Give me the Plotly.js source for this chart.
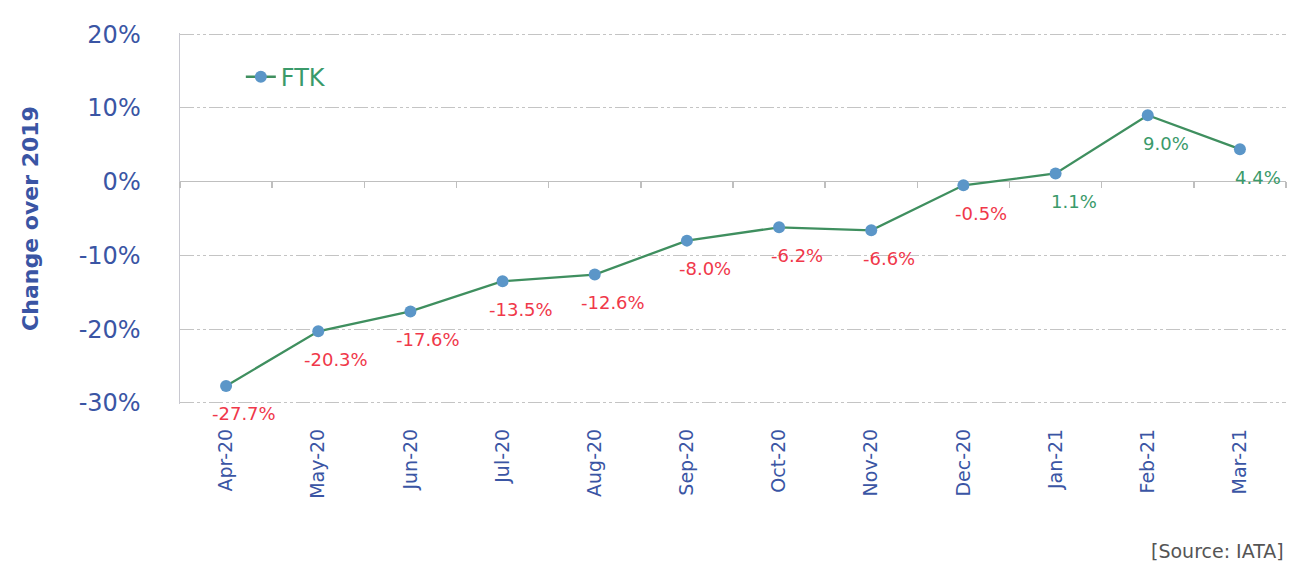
<!DOCTYPE html>
<html>
<head>
<meta charset="utf-8">
<script src="https://cdn.plot.ly/plotly-3.0.1.min.js"></script>
<style>html,body{margin:0;padding:0;background:#fff;}#chart{width:1290px;height:565px;}</style>
</head>
<body>
<div id="chart"></div>
<script>
const months = ["Apr-20","May-20","Jun-20","Jul-20","Aug-20","Sep-20","Oct-20","Nov-20","Dec-20","Jan-21","Feb-21","Mar-21"];
const ftk = [-27.7, -20.3, -17.6, -13.5, -12.6, -8.0, -6.2, -6.6, -0.5, 1.1, 9.0, 4.4];
const yTicks = [-30, -20, -10, 0, 10, 20];
const yTickText = ["-30%", "-20%", "-10%", "0%", "10%", "20%"];

const blue = "#3a55a4";
const red = "#f0384a";
const green = "#3a9a6a";
const FONT = "'DejaVu Sans', sans-serif";

const trace = {
  x: months, y: ftk, type: "scatter", mode: "lines+markers", name: "FTK",
  line: {color: "#3f8f5f", width: 2.3},
  marker: {color: "#5b96c8", size: 12},
  cliponaxis: false
};
// invisible trace on xaxis2, used only to draw boundary tick marks on the 0% axis line
const tickTrace = {x: months, y: ftk, xaxis: "x2", yaxis: "y", showlegend: false, hoverinfo: "skip",
  type: "scatter", mode: "markers", marker: {opacity: 0}};

const annotations = months.map((m, i) => ({
  x: m, y: ftk[i], xref: "x", yref: "y",
  text: ftk[i].toFixed(1) + "%",
  showarrow: false, xshift: 18, yshift: -28,
  font: {family: FONT, size: 18, color: ftk[i] < 0 ? red : green}
}));
annotations.push({
  xref: "paper", yref: "paper", x: 1.0, y: -0.395, xanchor: "right", yanchor: "middle",
  text: "[Source: IATA]", showarrow: false,
  font: {family: FONT, size: 19, color: "#555"}
});

const layout = {
  width: 1290, height: 565,
  margin: {l: 180, r: 4, t: 33, b: 161},
  paper_bgcolor: "#fff", plot_bgcolor: "#fff",
  showlegend: true,
  legend: {x: 0.055, y: 0.881, xanchor: "left", yanchor: "middle", bgcolor: "rgba(0,0,0,0)",
    font: {family: FONT, size: 24, color: green}, itemwidth: 30},
  xaxis: {
    type: "category", range: [-0.5, 11.5], showgrid: false, zeroline: false,
    showline: false, ticks: "", tickangle: -90, ticklabelstandoff: 20,
    tickfont: {family: FONT, size: 19, color: blue}
  },
  xaxis2: {
    type: "category", overlaying: "x", anchor: "free", position: 0.6, side: "bottom",
    range: [-0.5, 11.5], showgrid: false, zeroline: false, showline: false,
    ticks: "outside", tickson: "boundaries", ticklen: 6, tickcolor: "#bfbfbf", tickwidth: 1.5,
    showticklabels: false
  },
  yaxis: {
    range: [-30.15, 20.15], tickvals: yTicks, ticktext: yTickText,
    showgrid: true, gridcolor: "#c4c4c4", griddash: "14px,3px,3px,3px,3px,3px", gridwidth: 1.2,
    zeroline: true, zerolinecolor: "#bfbfbf", zerolinewidth: 1.5,
    showline: true, linecolor: "#c8c8d0", linewidth: 1.5,
    ticks: "", ticklabelstandoff: 33,
    tickfont: {family: FONT, size: 24, color: blue},
    title: {text: "Change over 2019", standoff: 34, font: {family: FONT, size: 22, color: blue, weight: "bold"}}
  },
  annotations: annotations
};

Plotly.newPlot("chart", [trace, tickTrace], layout, {staticPlot: true, displayModeBar: false});
</script>
</body>
</html>
